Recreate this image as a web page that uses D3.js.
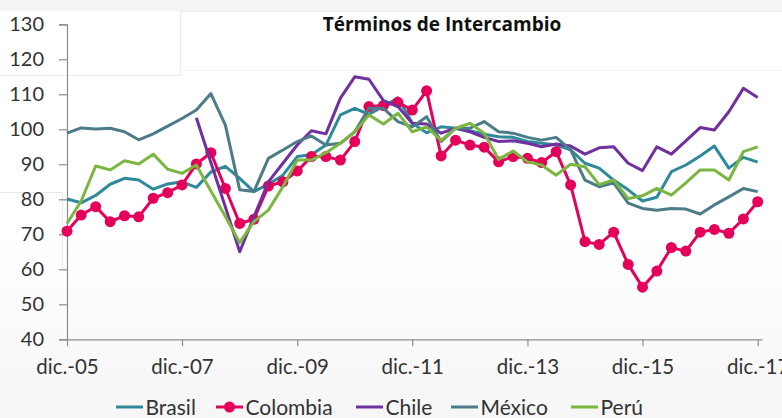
<!DOCTYPE html>
<html>
<head>
<meta charset="utf-8">
<script src="https://cdn.jsdelivr.net/npm/d3@7"></script>
<style>
  body { margin: 0; background: #fff; }
  svg { display: block; font-family: Lato, "Open Sans", sans-serif; }
</style>
</head>
<body>
<div id="chart"></div>
<script>
// Terminos de intercambio, datos trimestrales dic-05 a dic-17
var chartTitle = "Términos de Intercambio";
var seriesNames = ["Brasil", "Colombia", "Chile", "México", "Perú"];
var seriesColors = ["#2e8a9b", "#e5005a", "#7030a0", "#4b7c87", "#7ab640"];

var brasil = [80.1, 79.0, 81.1, 84.3, 86.0, 85.5, 82.9, 84.4, 85.0, 83.4,
  87.8, 89.4, 86.0, 82.2, 84.3, 86.9, 92.2, 92.7, 95.5, 104.1,
  106.0, 104.3, 106.5, 109.0, 101.8, 99.0, 100.7, 100.3, 99.6, 98.6,
  97.9, 97.7, 96.5, 96.0, 95.5, 94.1, 90.3, 88.9, 85.5, 82.7,
  79.5, 80.6, 87.9, 89.8, 92.4, 95.2, 88.9, 92.0, 90.6];
var colombia = [70.9, 75.5, 77.9, 73.6, 75.3, 75.0, 80.3, 81.9, 84.1, 90.1,
  93.3, 83.1, 73.1, 74.3, 83.8, 85.0, 88.1, 92.2, 92.2, 91.2,
  96.5, 106.5, 106.8, 107.7, 105.5, 111.0, 92.4, 96.9, 95.5, 94.9,
  90.7, 92.2, 91.7, 90.5, 93.6, 84.1, 67.9, 67.1, 70.6, 61.4,
  54.9, 59.5, 66.2, 65.2, 70.6, 71.4, 70.3, 74.4, 79.3];
var chile = [null, null, null, null, null, null, null, null, null, 103.3,
  90.5, 77.8, 65.0, 75.0, 85.0, 90.3, 95.5, 99.6, 98.7, 108.9,
  115.0, 114.3, 108.2, 106.5, 101.7, 101.5, 98.9, 100.3, 99.3, 97.7,
  96.5, 96.7, 96.0, 95.0, 95.8, 95.2, 92.9, 94.7, 95.0, 90.3,
  88.2, 95.0, 92.9, 96.7, 100.5, 99.8, 105.0, 111.7, 109.1];
var mexico = [98.9, 100.4, 100.1, 100.3, 99.3, 97.0, 98.7, 100.9, 103.1, 105.5,
  110.2, 101.2, 82.7, 82.2, 91.7, 94.1, 96.5, 98.1, 95.5, 96.0,
  99.3, 106.0, 106.0, 102.2, 100.7, 103.6, 96.5, 100.3, 100.3, 102.2,
  99.3, 98.9, 97.7, 96.9, 97.7, 94.1, 85.5, 83.6, 84.7, 78.9,
  77.4, 76.9, 77.4, 77.2, 75.8, 78.4, 80.7, 83.1, 82.2];
var peru = [73.1, 79.5, 89.5, 88.4, 91.0, 90.1, 92.9, 88.6, 87.4, 89.8,
  82.4, 75.1, 67.6, 73.6, 76.9, 83.6, 91.2, 91.2, 93.3, 96.0,
  99.3, 104.1, 101.5, 104.6, 99.3, 100.7, 96.8, 100.3, 101.7, 98.9,
  91.4, 93.8, 90.7, 89.8, 86.9, 90.0, 89.3, 84.2, 85.5, 80.2,
  81.0, 83.1, 81.2, 84.7, 88.4, 88.4, 85.5, 93.6, 95.0];
var allSeries = [brasil, colombia, chile, mexico, peru];

var yTicks = [40, 50, 60, 70, 80, 90, 100, 110, 120, 130];
var xTickYears = [2005, 2007, 2009, 2011, 2013, 2015, 2017];

// fechas trimestrales (categorias): dic, mar, jun, sep ...
var dates = d3.timeMonth.range(new Date(2005, 11, 1), new Date(2018, 0, 1), 3);

var width = 782, height = 418;
var x = d3.scaleTime().domain([new Date(2005, 11, 1), new Date(2017, 11, 1)]).range([67, 757.7]);
var y = d3.scaleLinear().domain([40, 130]).range([339.3, 24.3]);

var svg = d3.select("#chart").append("svg")
  .attr("width", width).attr("height", height);

// fondo
var defs = svg.append("defs");
var grad = defs.append("linearGradient").attr("id", "bg")
  .attr("x1", 0).attr("y1", 0).attr("x2", 0).attr("y2", 1);
grad.append("stop").attr("offset", "0.55").attr("stop-color", "#ffffff");
grad.append("stop").attr("offset", "1").attr("stop-color", "#f6f6f6");
svg.append("rect").attr("width", width).attr("height", height).attr("fill", "url(#bg)");
svg.append("rect").attr("width", width).attr("height", 11).attr("fill", "#f4f4f4");

// cajas tenues de fondo
var faint = svg.append("g").attr("fill", "none").attr("stroke", "#ececec").attr("stroke-width", 1.2);
faint.append("path").attr("d", "M0,75.5H180.5V11.5H782");
faint.append("path").attr("d", "M180.5,70.5H782").attr("stroke", "#f6f6f6");
faint.append("path").attr("d", "M0,192.5H62.5V268");

// titulo
svg.append("text")
  .attr("x", 442).attr("y", 31)
  .attr("text-anchor", "middle")
  .style("font-family", "'Open Sans', sans-serif")
  .style("font-weight", "bold").style("font-size", "19px").attr("fill", "#111")
  .text(chartTitle);

// eje Y
var yAxis = svg.append("g")
  .attr("transform", "translate(67,0)")
  .call(d3.axisLeft(y).tickValues(yTicks).tickSize(8).tickPadding(15));
yAxis.select(".domain").attr("stroke", "#8c8c8c").attr("stroke-width", 1.2);
yAxis.selectAll(".tick line").attr("stroke", "#8c8c8c").attr("stroke-width", 1.2);
yAxis.selectAll(".tick text").attr("fill", "#333").style("font-size", "20px")
  .style("font-family", "Lato, sans-serif");

// eje X (la ultima etiqueta queda cortada en el borde, como en el original)
var xAxis = svg.append("g")
  .attr("transform", "translate(0,339.3)")
  .call(d3.axisBottom(x)
    .tickValues(xTickYears.map(function(yr){ return new Date(yr, 11, 1); }))
    .tickFormat(function(d){ return "dic.-" + d3.timeFormat("%y")(d); })
    .tickSize(7).tickPadding(13));
xAxis.select(".domain").attr("stroke", "#8c8c8c").attr("stroke-width", 1.2)
  .attr("d", "M67,0.5H762.5");
xAxis.selectAll(".tick line").attr("stroke", "#8c8c8c").attr("stroke-width", 1.2);
xAxis.selectAll(".tick text").attr("fill", "#333").style("font-size", "20.5px")
  .style("font-family", "Lato, sans-serif");

// series
var line = d3.line()
  .defined(function(d){ return d.v !== null; })
  .x(function(d){ return x(d.date); })
  .y(function(d){ return y(d.v); });

allSeries.forEach(function(vals, k){
  var pts = vals.map(function(v, i){ return {date: dates[i], v: v}; });
  var g = svg.append("g");
  g.append("path")
    .datum(pts)
    .attr("fill", "none")
    .attr("stroke", seriesColors[k])
    .attr("stroke-width", 3)
    .attr("stroke-linejoin", "round")
    .attr("d", line);
  if (seriesNames[k] === "Colombia") {
    g.selectAll("circle")
      .data(pts)
      .join("circle")
      .attr("cx", function(d){ return x(d.date); })
      .attr("cy", function(d){ return y(d.v); })
      .attr("r", 5.5)
      .attr("fill", seriesColors[k]);
  }
});

// leyenda
var legendX = [116, 216, 356, 451, 571];
var legend = svg.append("g").attr("transform", "translate(0,407)");
seriesNames.forEach(function(name, k){
  var lg = legend.append("g").attr("transform", "translate(" + legendX[k] + ",0)");
  lg.append("line").attr("x1", 0).attr("x2", 27).attr("y1", 0).attr("y2", 0)
    .attr("stroke", seriesColors[k]).attr("stroke-width", 3);
  if (name === "Colombia") {
    lg.append("circle").attr("cx", 13.5).attr("cy", 0).attr("r", 5.5).attr("fill", seriesColors[k]);
  }
  lg.append("text").attr("x", 29.5).attr("y", 7.5)
    .style("font-size", "21px").attr("fill", "#333")
    .text(name);
});
</script>
</body>
</html>
